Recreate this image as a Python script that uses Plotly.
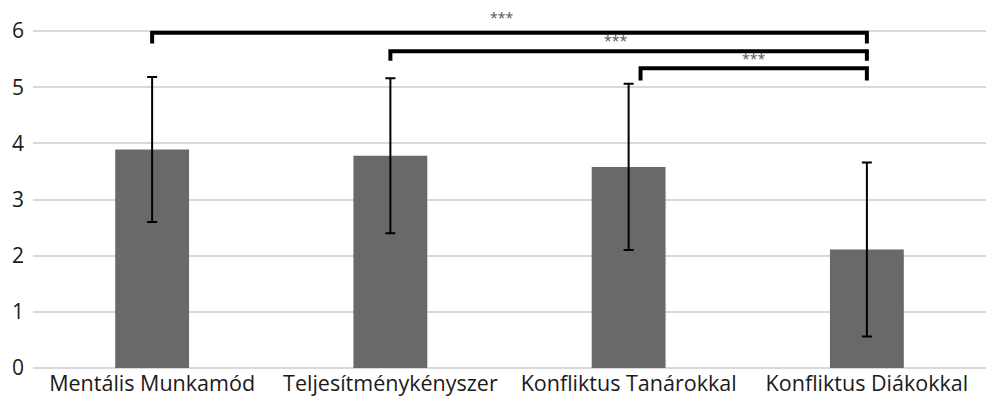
import plotly.graph_objects as go

categories = ["Mentális Munkamód", "Teljesítménykényszer", "Konfliktus Tanárokkal", "Konfliktus Diákokkal"]
means = [3.89, 3.78, 3.58, 2.11]
sds = [1.29, 1.38, 1.48, 1.55]
y_ticks = [0, 1, 2, 3, 4, 5, 6]

# significance brackets: (left x, right x, top y, bottom y)
brackets = [(0.0, 3.0, 5.97, 5.78), (1.0, 3.0, 5.64, 5.47), (2.05, 3.0, 5.34, 5.12)]
sig_labels = ["***", "***", "***"]
sig_x = [1.467, 1.945, 2.526]
sig_y = [6.25, 5.83, 5.51]

xpos = list(range(len(categories)))
FONT = "Open Sans"

fig = go.Figure()
fig.add_trace(go.Bar(
    x=xpos, y=means, width=0.31,
    marker=dict(color="#696969", line=dict(width=0)),
    error_y=dict(type="data", array=sds, visible=True, color="black", thickness=2, width=5),
))

for (x0, x1, yt, yb) in brackets:
    fig.add_shape(type="path", xref="x", yref="y",
                  path=f"M {x0},{yb} L {x0},{yt} L {x1},{yt} L {x1},{yb}",
                  line=dict(color="black", width=4))

for lab, sx, sy in zip(sig_labels, sig_x, sig_y):
    fig.add_annotation(x=sx, y=sy, xref="x", yref="y", text=lab, showarrow=False,
                       font=dict(family=FONT, size=14, color="#555555"))

fig.update_layout(
    width=986, height=400,
    margin=dict(l=33, r=0, t=3, b=32, autoexpand=False),
    plot_bgcolor="white", paper_bgcolor="white",
    showlegend=False,
    font=dict(family=FONT, size=21, color="#1a1a1a"),
    xaxis=dict(range=[-0.5, 3.5], tickvals=xpos, ticktext=categories, showgrid=False,
               zeroline=False, showline=False, ticks="", tickfont=dict(size=21.5),
               ticklabelstandoff=0, automargin=False),
    yaxis=dict(range=[0, 6.5], tickvals=y_ticks, showgrid=True, gridcolor="#d9d9d9", gridwidth=2,
               zeroline=True, zerolinecolor="#d9d9d9", zerolinewidth=2, showline=False,
               ticks="", ticklabelstandoff=8, tickfont=dict(size=21), automargin=False),
)

fig.write_html("out.html", config={"displayModeBar": False},
               post_script="document.body.style.margin='0';document.body.style.padding='0';")
